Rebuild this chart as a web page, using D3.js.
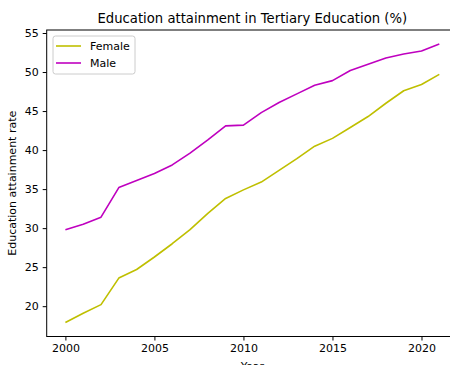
<!DOCTYPE html>
<html>
<head>
<meta charset="utf-8">
<script src="https://cdn.jsdelivr.net/npm/d3@7"></script>
<style>
  body { margin: 0; background: #fff; }
  svg { display: block; font-family: "DejaVu Sans", sans-serif; }
</style>
</head>
<body>
<div id="chart"></div>
<script>
const years = d3.range(2000, 2022);
const female = [17.9, 19.1, 20.2, 23.6, 24.7, 26.3, 28.0, 29.8, 31.9, 33.8, 34.9, 35.9,
  37.4, 38.9, 40.5, 41.5, 42.9, 44.3, 46.0, 47.6, 48.4, 49.7];
const male = [29.8, 30.5, 31.4, 35.2, 36.1, 37.0, 38.1, 39.6, 41.3, 43.1, 43.2, 44.8,
  46.1, 47.2, 48.3, 48.9, 50.2, 51.0, 51.8, 52.3, 52.7, 53.6];
const xTicks = [2000, 2005, 2010, 2015, 2020];
const yTicks = [20, 25, 30, 35, 40, 45, 50, 55];

const series = [
  { name: "Female", values: female, color: "#bfbf00" },
  { name: "Male", values: male, color: "#bf00bf" }
];

const width = 450, height = 365;
const margin = { top: 30, right: -8, bottom: 28.5, left: 46.7 };

const svg = d3.select("#chart").append("svg")
  .attr("width", width)
  .attr("height", height);

// matplotlib-style 5% padding
function padded(lo, hi) {
  const p = (hi - lo) * 0.05;
  return [lo - p, hi + p];
}

const allVals = female.concat(male);
const x = d3.scaleLinear()
  .domain(padded(d3.min(years), d3.max(years)))
  .range([margin.left, width - margin.right]);
const y = d3.scaleLinear()
  .domain(padded(d3.min(allVals), d3.max(allVals)))
  .range([height - margin.bottom, margin.top]);

const line = d3.line()
  .x((d, i) => x(years[i]))
  .y(d => y(d));

svg.append("g")
  .selectAll("path")
  .data(series)
  .join("path")
  .attr("fill", "none")
  .attr("stroke", d => d.color)
  .attr("stroke-width", 1.6)
  .attr("stroke-linejoin", "round")
  .attr("d", d => line(d.values));

function xAxis(g) {
  g.attr("transform", `translate(0,${height - margin.bottom})`)
    .call(d3.axisBottom(x).tickValues(xTicks).tickFormat(d3.format("d")).tickSize(4).tickSizeOuter(0).tickPadding(4))
    .attr("font-size", "11px")
    .attr("font-family", "DejaVu Sans");
}

function yAxis(g) {
  g.attr("transform", `translate(${margin.left},0)`)
    .call(d3.axisLeft(y).tickValues(yTicks).tickSize(4).tickSizeOuter(0).tickPadding(4))
    .attr("font-size", "11px")
    .attr("font-family", "DejaVu Sans");
}

svg.append("g").call(xAxis);
svg.append("g").call(yAxis);

// spines
svg.selectAll(".domain").remove();
svg.append("rect")
  .attr("x", margin.left)
  .attr("y", margin.top)
  .attr("width", width - margin.right - margin.left)
  .attr("height", height - margin.bottom - margin.top)
  .attr("fill", "none")
  .attr("stroke", "#000")
  .attr("stroke-width", 1);
svg.selectAll(".tick text").attr("fill", "#000");

svg.append("text")
  .attr("x", (margin.left + width - margin.right) / 2)
  .attr("y", 23)
  .attr("text-anchor", "middle")
  .attr("font-size", "13.2px")
  .text("Education attainment in Tertiary Education (%)");

svg.append("text")
  .attr("transform", `translate(16,${(margin.top + height - margin.bottom) / 2}) rotate(-90)`)
  .attr("text-anchor", "middle")
  .attr("font-size", "11px")
  .text("Education attainment rate");

svg.append("text")
  .attr("x", (margin.left + width - margin.right) / 2)
  .attr("y", 370)
  .attr("text-anchor", "middle")
  .attr("font-size", "11px")
  .text("Year");

// legend
const legend = svg.append("g").attr("transform", "translate(53,36)");
legend.append("rect")
  .attr("width", 82)
  .attr("height", 38)
  .attr("rx", 2.5)
  .attr("fill", "#fff")
  .attr("fill-opacity", 0.8)
  .attr("stroke", "#cccccc");
const item = legend.selectAll("g.item")
  .data(series)
  .join("g")
  .attr("class", "item")
  .attr("transform", (d, i) => `translate(0,${10 + i * 17})`);
item.append("line")
  .attr("x1", 3).attr("x2", 28)
  .attr("stroke", d => d.color)
  .attr("stroke-width", 1.6);
item.append("text")
  .attr("x", 37)
  .attr("dy", "0.35em")
  .attr("font-size", "11px")
  .text(d => d.name);
</script>
</body>
</html>
